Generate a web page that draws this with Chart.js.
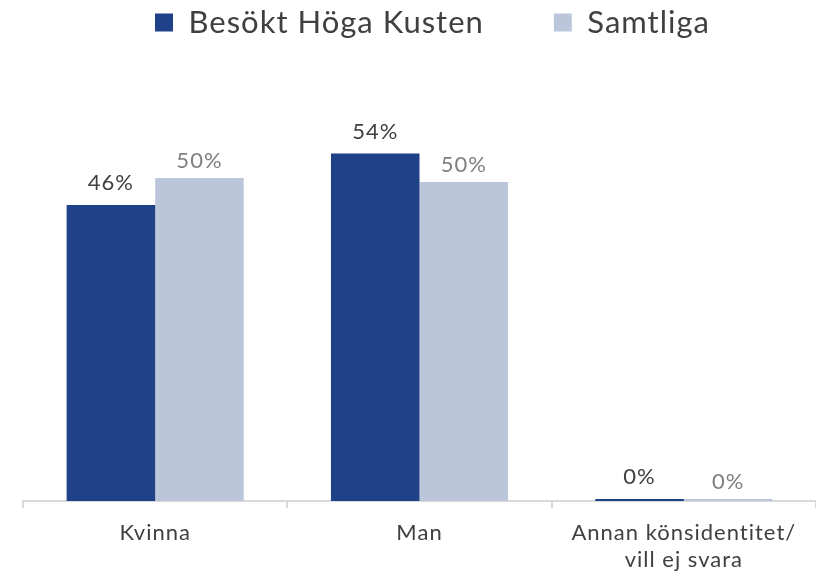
<!DOCTYPE html>
<html>
<head>
<meta charset="utf-8">
<script src="https://cdn.jsdelivr.net/npm/chart.js@4/dist/chart.umd.min.js"></script>
<style>
  html, body { margin: 0; padding: 0; background: #fff; }
  #wrap { width: 816px; height: 576px; }
</style>
</head>
<body>
<div id="wrap"><canvas id="genderChart"></canvas></div>
<script>
const categories = ['Kvinna', 'Man', ['Annan könsidentitet/', 'vill ej svara']];
const seriesNames = ['Besökt Höga Kusten', 'Samtliga'];
const visitedValues = [46, 54, 0];
const allValues = [50.2, 49.6, 0];

const FONT = 'Lato, "DejaVu Sans", sans-serif';

// slightly wider tracking for all canvas text
const tracking = {
  id: 'tracking',
  beforeDraw(chart) { chart.ctx.letterSpacing = '1px'; },
  afterDraw(chart) { chart.ctx.letterSpacing = '0px'; }
};

// percent labels above each bar
const valueLabels = {
  id: 'valueLabels',
  afterDatasetsDraw(chart) {
    const ctx = chart.ctx;
    ctx.save();
    ctx.font = '22px ' + FONT;
    ctx.textAlign = 'center';
    ctx.textBaseline = 'alphabetic';
    chart.data.datasets.forEach((ds, i) => {
      const meta = chart.getDatasetMeta(i);
      ctx.fillStyle = ds.labelColor;
      meta.data.forEach((bar, j) => {
        ctx.fillText(Math.round(ds.data[j]) + '%', bar.x, bar.y - ds.labelGap);
      });
    });
    ctx.restore();
  }
};

// fixed legend block height so the plot sits below it
const legendHeight = {
  id: 'legendHeight',
  beforeInit(chart) {
    const fit = chart.legend.fit;
    chart.legend.fit = function () {
      fit.bind(chart.legend)();
      this.height = 178;
    };
  }
};

new Chart(document.getElementById('genderChart'), {
  type: 'bar',
  data: {
    labels: categories,
    datasets: [
      {
        label: seriesNames[0],
        data: visitedValues,
        backgroundColor: '#1F4188',
        labelColor: '#404040',
        labelGap: 15,
        minBarLength: 2
      },
      {
        label: seriesNames[1],
        data: allValues,
        backgroundColor: '#BBC6DA',
        labelColor: '#7F7F7F',
        labelGap: 10,
        minBarLength: 2
      }
    ]
  },
  options: {
    responsive: true,
    maintainAspectRatio: false,
    animation: false,
    datasets: { bar: { categoryPercentage: 0.67, barPercentage: 1.0 } },
    layout: { padding: { left: 23, right: 0, top: -63, bottom: 0 } },
    plugins: {
      tooltip: { enabled: false },
      legend: {
        position: 'top',
        labels: {
          color: '#404040',
          font: { size: 31, family: FONT },
          boxWidth: 18,
          boxHeight: 18,
          padding: 70
        }
      }
    },
    scales: {
      x: {
        grid: {
          offset: true,
          drawOnChartArea: false,
          drawTicks: true,
          tickLength: 7,
          color: '#D9D9D9',
          lineWidth: 2
        },
        border: { color: '#D9D9D9', width: 2 },
        ticks: {
          color: '#404040',
          font: { size: 22, family: FONT },
          padding: 12,
          maxRotation: 0
        },
        afterFit(scale) { scale.height = 75; }
      },
      y: {
        display: false,
        min: 0,
        max: 60
      }
    }
  },
  plugins: [tracking, valueLabels, legendHeight]
});
</script>
</body>
</html>
